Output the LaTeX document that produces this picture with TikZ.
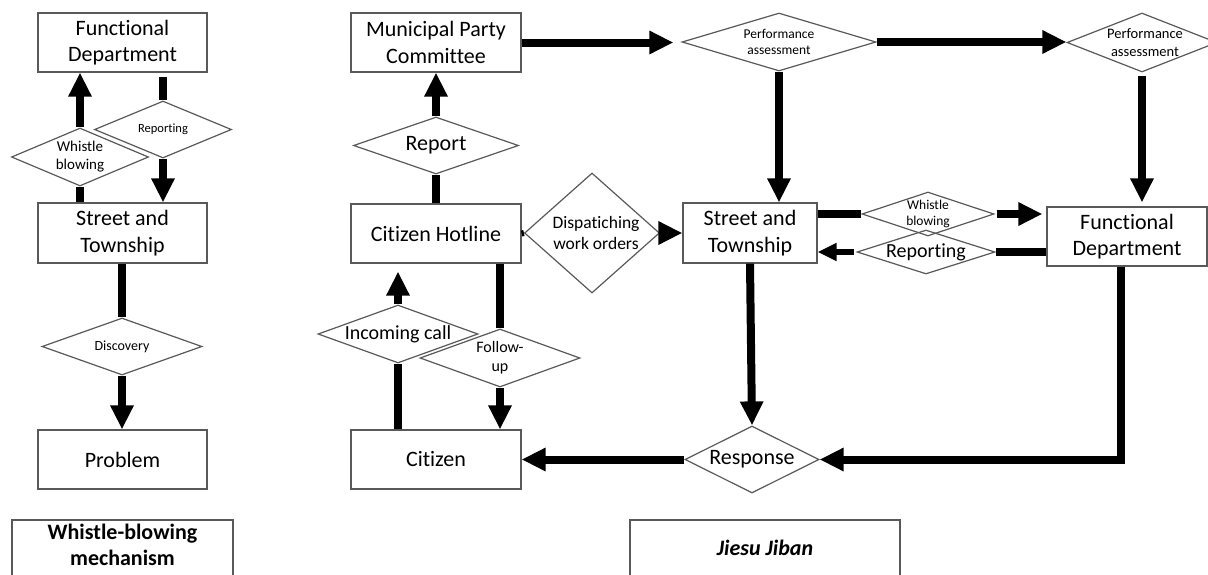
\documentclass[tikz,border=0pt]{standalone}
\usepackage{fontspec}
\setmainfont{Carlito}[Ligatures=NoCommon]
\usetikzlibrary{shapes.geometric,arrows.meta}
\newcommand\fsz[1]{\fontsize{#1pt}{\dimexpr #1pt*6/5\relax}\selectfont}
\definecolor{bgray}{HTML}{595959}
\begin{document}
\begin{tikzpicture}[x=1pt,y=-1pt,
  box/.style={draw=bgray, line width=1.2pt, inner sep=0pt, align=center, font=\fsz{22}},
  dia/.style={diamond, draw=bgray, line width=1.2pt, inner sep=0pt},
  ln/.style={line width=8pt},
  arr/.style={line width=8pt, -{Triangle[width=22pt,length=24pt]}},
  sarr/.style={line width=6pt, -{Triangle[width=17pt,length=19pt]}},
  lab/.style={align=center, inner sep=0pt}]
\useasboundingbox (0,0) rectangle (1208,574);
\fill[white] (0,0) rectangle (1208,574);
\clip (0,0) rectangle (1208,574);

% ---------- left: whistle-blowing mechanism ----------
\node[box, minimum width=169pt, minimum height=59pt] (fdL) at (122.5,42.5) {Functional\\Department};
\node[box, minimum width=169pt, minimum height=60pt] (stL) at (122.5,233) {Street and\\Township};
\node[box, minimum width=169pt, minimum height=59pt] (probL) at (122.5,459.5) {Problem};
\node[dia, minimum width=137pt, minimum height=58pt,
  label={[lab, font=\fsz{15}]center:Whistle\\blowing}] (wbL) at (80,157) {};
\node[dia, minimum width=137pt, minimum height=57pt,
  label={[lab, font=\fsz{12.5}]center:Reporting}] (repL) at (163,129.5) {};
\node[dia, minimum width=160pt, minimum height=57pt,
  label={[lab, font=\fsz{14}]center:Discovery}] (disc) at (122,346.5) {};
\node[box, minimum width=221pt, minimum height=64pt,
  label={[lab, yshift=7pt, font=\bfseries\fsz{22}]center:Whistle-blowing\\mechanism}] (wbm) at (122.5,552) {};

\draw[arr] (wbL.north) -- (wbL.north |- fdL.south);
\draw[ln, shorten <=4pt] (fdL.south -| repL.north) -- (repL.north);
\draw[arr] (repL.south) -- (repL.south |- stL.north);
\draw[ln] (wbL.south) -- (wbL.south |- stL.north);
\draw[ln] (disc.north |- stL.south) -- (disc.north);
\draw[arr] (disc.south) -- (disc.south |- probL.north);

% ---------- middle ----------
\node[box, minimum width=170pt, minimum height=59pt] (mpc) at (436,42.5) {Municipal Party\\Committee};
\node[box, minimum width=170pt, minimum height=59pt] (ch) at (436,233.5) {Citizen Hotline};
\node[box, minimum width=170pt, minimum height=59pt] (cit) at (436,459.5) {Citizen};
\node[dia, minimum width=165pt, minimum height=57pt,
  label={[lab, font=\fsz{22}]center:Report}] (report) at (436,145.5) {};
\node[dia, minimum width=135pt, minimum height=120pt,
  label={[lab, font=\fsz{17.5}, xshift=4pt]center:Dispatiching\\work orders}] (disp) at (592,233) {};
\node[dia, minimum width=160pt, minimum height=58pt,
  label={[lab, font=\fsz{20}]center:Incoming call}] (inc) at (398,334) {};
\node[dia, minimum width=160pt, minimum height=58pt,
  label={[lab, font=\fsz{16}]center:Follow-\\up}] (fol) at (500,358) {};
\node[box, minimum width=270pt, minimum height=62pt,
  label={[lab, yshift=3pt, font=\bfseries\itshape\fsz{22}]center:Jiesu Jiban}] (jj) at (765,551) {};

% ---------- right ----------
\node[dia, minimum width=194pt, minimum height=58pt,
  label={[lab, font=\fsz{13.5}]center:Performance\\assessment}] (pa1) at (779,42) {};
\node[dia, minimum width=150pt, minimum height=59pt,
  label={[lab, font=\fsz{14.5}, xshift=3pt]center:Performance\\assessment}] (pa2) at (1142,42.5) {};
\node[box, minimum width=134pt, minimum height=60pt] (stR) at (750,233) {Street and\\Township};
\node[box, minimum width=160pt, minimum height=59pt] (fdR) at (1127,236.5) {Functional\\Department};
\node[dia, minimum width=132pt, minimum height=44pt,
  label={[lab, font=\fsz{13.5}]center:Whistle\\blowing}] (wbR) at (928,214) {};
\node[dia, minimum width=138pt, minimum height=44pt,
  label={[lab, font=\fsz{20}]center:Reporting}] (repR) at (926,252) {};
\node[dia, minimum width=134pt, minimum height=67pt,
  label={[lab, font=\fsz{22}]center:Response}] (resp) at (752,459.5) {};

% middle connectors
\draw[arr, shorten >=8pt] (mpc.east) -- (mpc.east -| pa1.west);
\draw[arr] (report.north) -- (mpc.south);
\draw[ln] (ch.north) -- (report.south);
\draw[line width=6pt] (ch.east) -- (disp.west);
\draw[ln] (inc.south |- cit.north) -- (inc.south);
\draw[arr, shorten >=8pt] (inc.north) -- (inc.north |- ch.south);
\draw[ln] (fol.north |- ch.south) -- (fol.north);
\draw[arr] (fol.south) -- (fol.south |- cit.north);

% right connectors
\draw[arr] (disp.east) -- (disp.east -| stR.west);
\draw[arr] (pa1.east) -- (pa1.east -| pa2.west);
\draw[arr] (pa1.south) -- (pa1.south |- stR.north);
\draw[arr, shorten <=3pt, shorten >=4pt] (pa2.south) -- (pa2.south |- fdR.north);
\draw[ln] (wbR.west -| stR.east) -- (wbR.west);
\draw[arr, shorten <=2pt, shorten >=4pt] (wbR.east) -- (wbR.east -| fdR.west);
\draw[ln] (repR.east -| fdR.west) -- (repR.east);
\draw[sarr, shorten <=2pt] (repR.west) -- (repR.west -| stR.east);
\draw[arr] (stR.south) -- (resp.north);
\draw[arr] ([xshift=-6pt]fdR.south) |- (resp.east);
\draw[arr] (resp.west) -- (resp.west -| cit.east);
\end{tikzpicture}
\end{document}
